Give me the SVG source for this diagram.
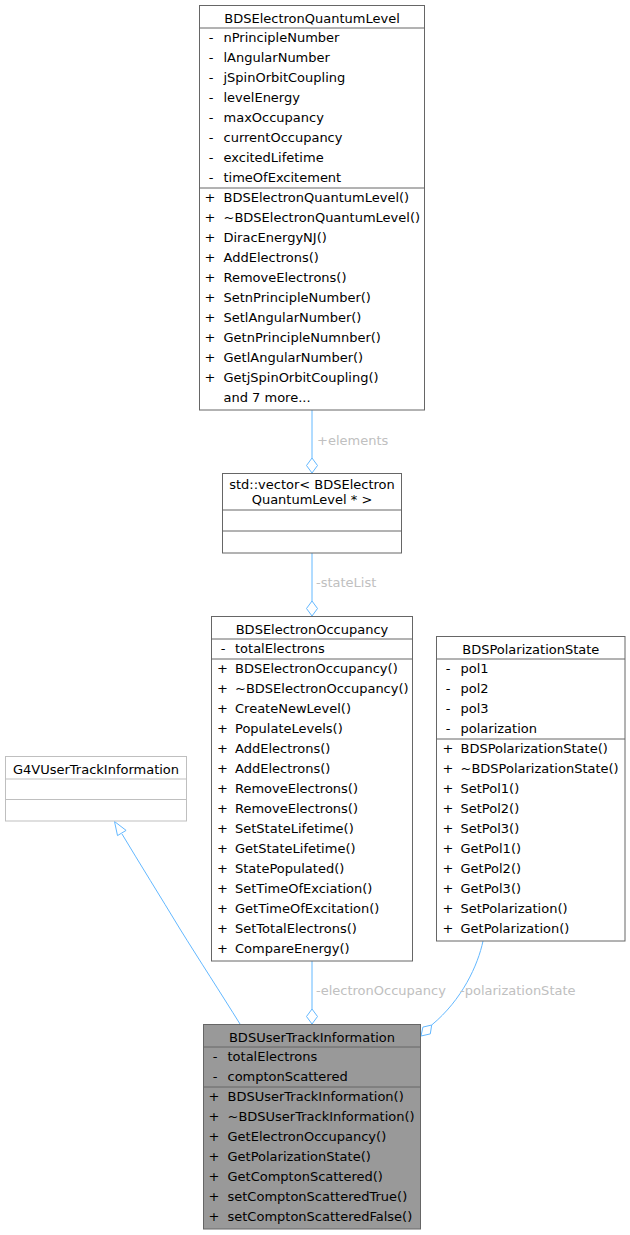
<svg xmlns="http://www.w3.org/2000/svg" width="630" height="1235" viewBox="0 0 630 1235">
<style>
text{font-family:"DejaVu Sans","Liberation Sans",sans-serif;font-size:13px;fill:#000}
.box{fill:#fff;stroke:#666;stroke-width:1}
.ext{fill:#fff;stroke:#bfbfbf;stroke-width:1}
.cur{fill:#999;stroke:#666;stroke-width:1}
.sep{stroke:#666;stroke-width:1}
.sepx{stroke:#bfbfbf;stroke-width:1}
.h{text-anchor:middle}
.v{text-anchor:middle}
.lbl{fill:#c0c0c0}
.edge{fill:none;stroke:#63b8ff;stroke-width:1}
.dia{fill:#fff;stroke:#63b8ff;stroke-width:1}
</style>
<g id="connectors">
  <path class="edge" d="M312,410 V458"/>
  <polygon class="dia" points="312,473 306.5,465.5 312,458 317.5,465.5"/>
  <text class="lbl" x="317" y="445">+elements</text>
  <path class="edge" d="M312,553 V601"/>
  <polygon class="dia" points="312,616 306.5,608.5 312,601 317.5,608.5"/>
  <text class="lbl" x="316" y="587">-stateList</text>
  <path class="edge" d="M312,961 V1009"/>
  <polygon class="dia" points="312,1024 306.5,1016.5 312,1009 317.5,1016.5"/>
  <text class="lbl" x="316" y="995">-electronOccupancy</text>
  <path class="edge" d="M483,941 C478,965 462,1000 431.7,1025"/>
  <polygon class="dia" points="431.7,1025 430.3,1033.9 421,1036 422.9,1027.1"/>
  <text class="lbl" x="460" y="995">-polarizationState</text>
  <path class="edge" d="M240,1024 C222,995 198,958 180,929 C160,896 140,864 122,834"/>
  <polygon class="dia" points="114.5,821.5 126.1,830.4 117.5,835.6"/>
</g>
<g id="BDSElectronQuantumLevel">
  <rect class="box" x="199.5" y="5.5" width="225" height="404.5"/>
  <line class="sep" x1="199.5" y1="28" x2="424.5" y2="28"/>
  <line class="sep" x1="199.5" y1="188" x2="424.5" y2="188"/>
  <text class="h" x="312" y="22.5">BDSElectronQuantumLevel</text>
  <text class="v" x="211" y="41.5">-</text><text x="223.5" y="41.5">nPrincipleNumber</text>
  <text class="v" x="211" y="61.5">-</text><text x="223.5" y="61.5">lAngularNumber</text>
  <text class="v" x="211" y="81.5">-</text><text x="223.5" y="81.5">jSpinOrbitCoupling</text>
  <text class="v" x="211" y="101.5">-</text><text x="223.5" y="101.5">levelEnergy</text>
  <text class="v" x="211" y="121.5">-</text><text x="223.5" y="121.5">maxOccupancy</text>
  <text class="v" x="211" y="141.5">-</text><text x="223.5" y="141.5">currentOccupancy</text>
  <text class="v" x="211" y="161.5">-</text><text x="223.5" y="161.5">excitedLifetime</text>
  <text class="v" x="211" y="181.5">-</text><text x="223.5" y="181.5">timeOfExcitement</text>
  <text class="v" x="210" y="201.5">+</text><text x="223.5" y="201.5">BDSElectronQuantumLevel()</text>
  <text class="v" x="210" y="221.5">+</text><text x="223.5" y="221.5">~BDSElectronQuantumLevel()</text>
  <text class="v" x="210" y="241.5">+</text><text x="223.5" y="241.5">DiracEnergyNJ()</text>
  <text class="v" x="210" y="261.5">+</text><text x="223.5" y="261.5">AddElectrons()</text>
  <text class="v" x="210" y="281.5">+</text><text x="223.5" y="281.5">RemoveElectrons()</text>
  <text class="v" x="210" y="301.5">+</text><text x="223.5" y="301.5">SetnPrincipleNumber()</text>
  <text class="v" x="210" y="321.5">+</text><text x="223.5" y="321.5">SetlAngularNumber()</text>
  <text class="v" x="210" y="341.5">+</text><text x="223.5" y="341.5">GetnPrincipleNumnber()</text>
  <text class="v" x="210" y="361.5">+</text><text x="223.5" y="361.5">GetlAngularNumber()</text>
  <text class="v" x="210" y="381.5">+</text><text x="223.5" y="381.5">GetjSpinOrbitCoupling()</text>
  <text x="223.5" y="401.5">and 7 more...</text>
</g>
<g id="vector">
  <rect class="box" x="222.5" y="473.5" width="179" height="79.5"/>
  <line class="sep" x1="222.5" y1="510" x2="401.5" y2="510"/>
  <line class="sep" x1="222.5" y1="531" x2="401.5" y2="531"/>
  <text class="h" x="312" y="489">std::vector&lt; BDSElectron</text>
  <text class="h" x="312" y="504">QuantumLevel * &gt;</text>
</g>
<g id="BDSElectronOccupancy">
  <rect class="box" x="211.5" y="616.5" width="201" height="344.5"/>
  <line class="sep" x1="211.5" y1="639" x2="412.5" y2="639"/>
  <line class="sep" x1="211.5" y1="659" x2="412.5" y2="659"/>
  <text class="h" x="312" y="633.5">BDSElectronOccupancy</text>
  <text class="v" x="223" y="652.5">-</text><text x="235" y="652.5">totalElectrons</text>
  <text class="v" x="222.5" y="672.5">+</text><text x="235" y="672.5">BDSElectronOccupancy()</text>
  <text class="v" x="222.5" y="692.5">+</text><text x="235" y="692.5">~BDSElectronOccupancy()</text>
  <text class="v" x="222.5" y="712.5">+</text><text x="235" y="712.5">CreateNewLevel()</text>
  <text class="v" x="222.5" y="732.5">+</text><text x="235" y="732.5">PopulateLevels()</text>
  <text class="v" x="222.5" y="752.5">+</text><text x="235" y="752.5">AddElectrons()</text>
  <text class="v" x="222.5" y="772.5">+</text><text x="235" y="772.5">AddElectrons()</text>
  <text class="v" x="222.5" y="792.5">+</text><text x="235" y="792.5">RemoveElectrons()</text>
  <text class="v" x="222.5" y="812.5">+</text><text x="235" y="812.5">RemoveElectrons()</text>
  <text class="v" x="222.5" y="832.5">+</text><text x="235" y="832.5">SetStateLifetime()</text>
  <text class="v" x="222.5" y="852.5">+</text><text x="235" y="852.5">GetStateLifetime()</text>
  <text class="v" x="222.5" y="872.5">+</text><text x="235" y="872.5">StatePopulated()</text>
  <text class="v" x="222.5" y="892.5">+</text><text x="235" y="892.5">SetTimeOfExciation()</text>
  <text class="v" x="222.5" y="912.5">+</text><text x="235" y="912.5">GetTimeOfExcitation()</text>
  <text class="v" x="222.5" y="932.5">+</text><text x="235" y="932.5">SetTotalElectrons()</text>
  <text class="v" x="222.5" y="952.5">+</text><text x="235" y="952.5">CompareEnergy()</text>
</g>
<g id="BDSPolarizationState">
  <rect class="box" x="436.5" y="636.5" width="188.5" height="304.5"/>
  <line class="sep" x1="436.5" y1="659" x2="625" y2="659"/>
  <line class="sep" x1="436.5" y1="739" x2="625" y2="739"/>
  <text class="h" x="530.8" y="653.5">BDSPolarizationState</text>
  <text class="v" x="448" y="672.5">-</text><text x="460.5" y="672.5">pol1</text>
  <text class="v" x="448" y="692.5">-</text><text x="460.5" y="692.5">pol2</text>
  <text class="v" x="448" y="712.5">-</text><text x="460.5" y="712.5">pol3</text>
  <text class="v" x="448" y="732.5">-</text><text x="460.5" y="732.5">polarization</text>
  <text class="v" x="448" y="752.5">+</text><text x="460.5" y="752.5">BDSPolarizationState()</text>
  <text class="v" x="448" y="772.5">+</text><text x="460.5" y="772.5">~BDSPolarizationState()</text>
  <text class="v" x="448" y="792.5">+</text><text x="460.5" y="792.5">SetPol1()</text>
  <text class="v" x="448" y="812.5">+</text><text x="460.5" y="812.5">SetPol2()</text>
  <text class="v" x="448" y="832.5">+</text><text x="460.5" y="832.5">SetPol3()</text>
  <text class="v" x="448" y="852.5">+</text><text x="460.5" y="852.5">GetPol1()</text>
  <text class="v" x="448" y="872.5">+</text><text x="460.5" y="872.5">GetPol2()</text>
  <text class="v" x="448" y="892.5">+</text><text x="460.5" y="892.5">GetPol3()</text>
  <text class="v" x="448" y="912.5">+</text><text x="460.5" y="912.5">SetPolarization()</text>
  <text class="v" x="448" y="932.5">+</text><text x="460.5" y="932.5">GetPolarization()</text>
</g>
<g id="G4VUserTrackInformation">
  <rect class="ext" x="5.5" y="756.5" width="181" height="64.5"/>
  <line class="sepx" x1="5.5" y1="779" x2="186.5" y2="779"/>
  <line class="sepx" x1="5.5" y1="799.5" x2="186.5" y2="799.5"/>
  <text class="h" x="96" y="773.5">G4VUserTrackInformation</text>
</g>
<g id="BDSUserTrackInformation">
  <rect class="cur" x="203.5" y="1024.5" width="217" height="204.5"/>
  <line class="sep" x1="203.5" y1="1047" x2="420.5" y2="1047"/>
  <line class="sep" x1="203.5" y1="1087" x2="420.5" y2="1087"/>
  <text class="h" x="312" y="1041.5">BDSUserTrackInformation</text>
  <text class="v" x="215" y="1060.5">-</text><text x="227.5" y="1060.5">totalElectrons</text>
  <text class="v" x="215" y="1080.5">-</text><text x="227.5" y="1080.5">comptonScattered</text>
  <text class="v" x="214" y="1100.5">+</text><text x="227.5" y="1100.5">BDSUserTrackInformation()</text>
  <text class="v" x="214" y="1120.5">+</text><text x="227.5" y="1120.5">~BDSUserTrackInformation()</text>
  <text class="v" x="214" y="1140.5">+</text><text x="227.5" y="1140.5">GetElectronOccupancy()</text>
  <text class="v" x="214" y="1160.5">+</text><text x="227.5" y="1160.5">GetPolarizationState()</text>
  <text class="v" x="214" y="1180.5">+</text><text x="227.5" y="1180.5">GetComptonScattered()</text>
  <text class="v" x="214" y="1200.5">+</text><text x="227.5" y="1200.5">setComptonScatteredTrue()</text>
  <text class="v" x="214" y="1220.5">+</text><text x="227.5" y="1220.5">setComptonScatteredFalse()</text>
</g>
</svg>
